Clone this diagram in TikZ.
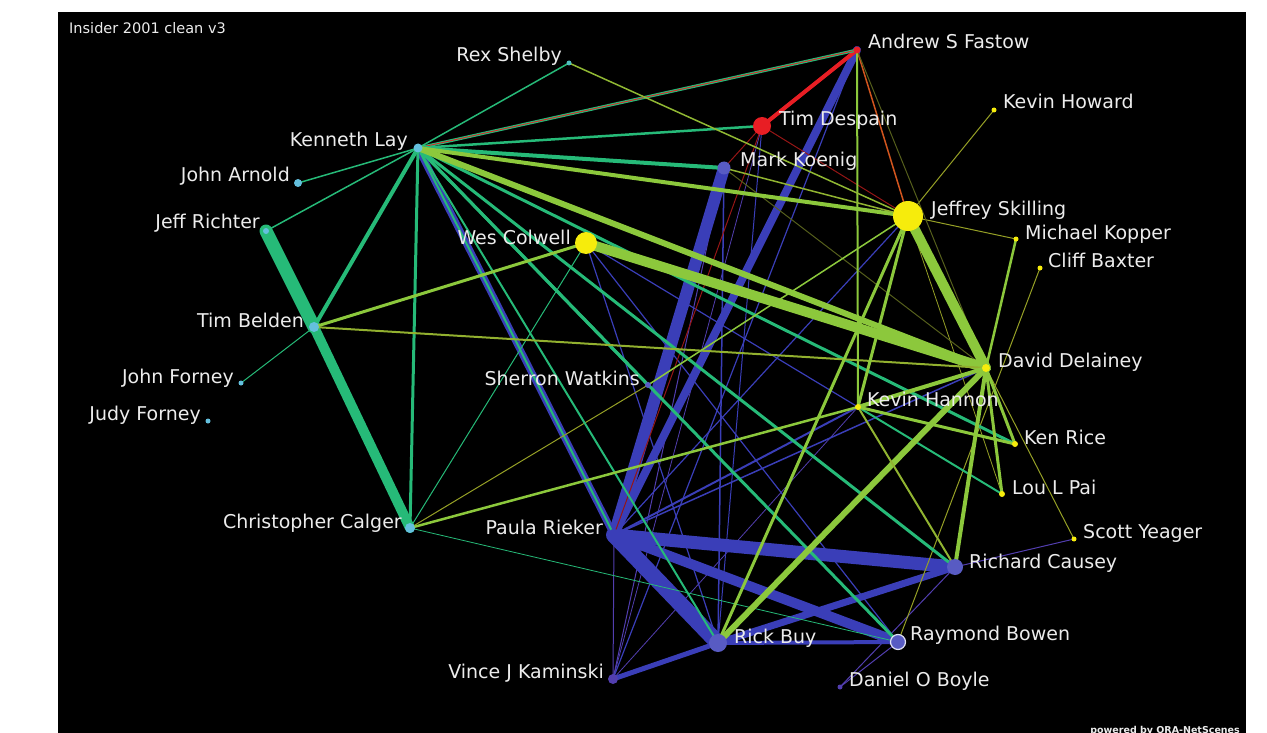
\documentclass[tikz,border=0pt]{standalone}
\usepackage{fontspec}
\setmainfont{DejaVu Sans}
\definecolor{cT}{RGB}{38,186,120}
\definecolor{cL}{RGB}{140,200,60}
\definecolor{cB}{RGB}{58,62,184}
\definecolor{cR}{RGB}{232,30,36}
\definecolor{cDR}{RGB}{150,22,22}
\definecolor{cOr}{RGB}{210,85,30}
\definecolor{cO}{RGB}{150,160,38}
\definecolor{cDO}{RGB}{85,95,28}
\definecolor{cP}{RGB}{82,62,175}
\definecolor{cC}{RGB}{100,192,222}
\definecolor{cY}{RGB}{246,236,12}
\definecolor{cTxt}{RGB}{236,236,236}
\tikzset{
  eT/.style={draw=cT,line width=#1},
  eL/.style={draw=cL,line width=#1},
  eB/.style={draw=cB,line width=#1},
  eR/.style={draw=cR,line width=#1},
  eDR/.style={draw=cDR,line width=#1},
  eO/.style={draw=cO,line width=#1},
  eDO/.style={draw=cDO,line width=#1},
  eP/.style={draw=cP,line width=#1},
  dot/.style={circle,inner sep=0pt,minimum size=#1},
  lbl/.style={text=cTxt,font=\fontsize{19}{20}\selectfont,inner sep=0pt},
  lblR/.style={lbl,anchor=base west},
  lblL/.style={lbl,anchor=base east},
}
\begin{document}
\begin{tikzpicture}[x=1pt,y=-1pt,line cap=round]
\useasboundingbox (0,0) rectangle (1267,733);
\fill[white] (0,0) rectangle (1267,733);
\fill[black] (58,12) rectangle (1246,733);
% coordinates
\coordinate (FA) at (857,50);
\coordinate (RS) at (569,63);
\coordinate (KHo) at (994,110);
\coordinate (TD) at (762,126);
\coordinate (KL) at (418,148);
\coordinate (MK) at (724,168);
\coordinate (JA) at (298,183);
\coordinate (SK) at (908,216);
\coordinate (JR) at (266,231);
\coordinate (WC) at (586,243);
\coordinate (KO) at (1016,239);
\coordinate (CB) at (1040,268);
\coordinate (TB) at (314,327);
\coordinate (DD) at (986,368);
\coordinate (JF) at (241,383);
\coordinate (SW) at (648,385);
\coordinate (KH) at (858,407);
\coordinate (JuF) at (208,421);
\coordinate (KR) at (1015,444);
\coordinate (LP) at (1002,494);
\coordinate (CC) at (410,528);
\coordinate (PR) at (614,535);
\coordinate (SY) at (1074,539);
\coordinate (RC) at (955,567);
\coordinate (RB) at (718,643);
\coordinate (RBo) at (898,642);
\coordinate (VK) at (613,679);
\coordinate (DOB) at (840,687);
% thin purple / blue
\draw[eP=1] (VK) -- (MK);
\draw[eP=1] (VK) -- (PR);
\draw[eP=0.8] (VK) -- (KH);
\draw[eP=0.8] (VK) -- (TD);
\draw[eP=1] (RC) -- (DOB);
\draw[eP=1] (RBo) -- (DOB);
\draw[eP=1] (SY) -- (RC);
\draw[eB=1.5] (MK) -- (RB);
\draw[eB=1] (TD) -- (RB);
\draw[eB=1.2] (SK) -- (PR);
\draw[eB=2] (KH) -- (PR);
\draw[eB=1.5] (DD) -- (PR);
\draw[eB=1.2] (WC) -- (KH);
\draw[eB=1.2] (WC) -- (RBo);
\draw[eB=1.2] (WC) -- (RB);
\draw[eB=1.2] (FA) -- (VK);
% blue heavy
\draw[eB=12] (MK) -- (PR);
\draw[eB=8] (FA) -- (PR);
\draw[eB=13] (PR) -- (RC);
\draw[eB=16] (PR) -- (RB);
\draw[eB=10] (PR) -- (RBo);
\draw[eB=7] (RB) -- (RC);
\draw[eB=4] (RB) -- (RBo);
\draw[eB=5] (RB) -- (VK);
\draw[eB=7] (KL) -- (PR);
\draw[eT=2] (KL) -- (PR);
% red
\draw[eR=4] (TD) -- (FA);
\draw[eDR=1] (TD) -- (MK);
\draw[eDR=1] (TD) -- (PR);
\draw[eDR=1] (TD) -- (SK);
\draw[draw=cOr,line width=1.5] (FA) -- (SK);
% olive thin
\draw[eO=1] (SK) -- (KHo);
\draw[eO=1] (SK) -- (KO);
\draw[eO=1] (CB) -- (RBo);
\draw[eO=1] (DD) -- (SY);
\draw[eO=1] (CC) -- (SW);
\draw[eO=0.8] (SK) -- (LP);
\draw[eDO=1] (FA) -- (DD);
\draw[eDO=1] (MK) -- (DD);
% teal
\draw[eT=13] (JR) -- (TB);
\draw[eT=10] (TB) -- (CC);
\draw[eT=4] (KL) -- (TB);
\draw[eT=3] (KL) -- (CC);
\draw[eT=3] (KL) -- (FA);
\draw[eR=0.8] (KL) -- (FA);
\draw[eT=1.5] (KL) -- (RS);
\draw[eT=1.5] (KL) -- (JA);
\draw[eT=1.5] (KL) -- (JR);
\draw[eT=2.5] (KL) -- (TD);
\draw[eT=4] (KL) -- (MK);
\draw[eT=3] (KL) -- (KR);
\draw[eT=3] (KL) -- (RC);
\draw[eT=3] (KL) -- (RBo);
\draw[eT=3] (KL) -- (SW);
\draw[eT=2] (KL) -- (RB);
\draw[eT=1] (TB) -- (JF);
\draw[eT=1] (CC) -- (WC);
\draw[eT=0.8] (CC) -- (RBo);
\draw[eT=2] (KH) -- (LP);
% lime
\draw[eL=4] (KL) -- (SK);
\draw[eL=6] (KL) -- (DD);
\draw[eL=10] (WC) -- (DD);
\draw[eL=10] (SK) -- (DD);
\draw[eL=3] (TB) -- (WC);
\draw[draw=cO!60!cL,line width=2] (TB) -- (DD);
\draw[eL=2.5] (CC) -- (KH);
\draw[eL=2] (FA) -- (KH);
\draw[eL=3] (SK) -- (KH);
\draw[eL=3] (SK) -- (RB);
\draw[eL=6] (DD) -- (RB);
\draw[eL=4] (DD) -- (RC);
\draw[eL=3] (DD) -- (KR);
\draw[eL=3] (DD) -- (LP);
\draw[eL=4] (DD) -- (KH);
\draw[eL=3] (KH) -- (KR);
\draw[eL=2.5] (KO) -- (DD);
\draw[eL=1.5] (SK) -- (SW);
\draw[draw=cO!40!cL,line width=1.5] (RS) -- (SK);
\draw[draw=cO!50!cL,line width=1.5] (MK) -- (SK);
\draw[draw=cO!50!cL,line width=2] (KH) -- (RC);
% nodes
\node[dot=7,fill=cR] (nFA) at (FA) {};
\node[dot=5,fill=cC!70!cT] (nRS) at (RS) {};
\node[dot=5,fill=cY] (nKHo) at (KHo) {};
\node[dot=18,fill=cR] (nTD) at (TD) {};
\node[dot=9,fill=cC] (nKL) at (KL) {};
\node[dot=13,fill=cB!85!white] (nMK) at (MK) {};
\node[dot=8,fill=cC] (nJA) at (JA) {};
\node[dot=30,fill=cY] (nSK) at (SK) {};
\node[dot=6,fill=cC] (nJR) at (JR) {};
\node[dot=22,fill=cY] (nWC) at (WC) {};
\node[dot=5,fill=cY] (nKO) at (KO) {};
\node[dot=5,fill=cY] (nCB) at (CB) {};
\node[dot=10,fill=cC] (nTB) at (TB) {};
\node[dot=8,fill=cY] (nDD) at (DD) {};
\node[dot=5,fill=cC] (nJF) at (JF) {};
\node[dot=6,fill=cB!85!white] (nSW) at (SW) {};
\node[dot=6,fill=cY] (nKH) at (KH) {};
\node[dot=5,fill=cC] (nJuF) at (JuF) {};
\node[dot=6,fill=cY] (nKR) at (KR) {};
\node[dot=6,fill=cY] (nLP) at (LP) {};
\node[dot=10,fill=cC] (nCC) at (CC) {};
\node[dot=12,fill=cB] (nPR) at (PR) {};
\node[dot=5,fill=cY] (nSY) at (SY) {};
\node[dot=16,fill=cB!85!white] (nRC) at (RC) {};
\node[dot=18,fill=cB!85!white] (nRB) at (RB) {};
\node[dot=15,fill=cB!85!white,draw=white!85!cB,line width=1.2] (nRBo) at (RBo) {};
\node[dot=10,fill=cP] (nVK) at (VK) {};
\node[dot=5,fill=cP] (nDOB) at (DOB) {};
% labels
\node[lbl,anchor=base west,font=\fontsize{14.5}{15}\selectfont] (title) at (69,34) {Insider 2001 clean v3};
\node[lblR] (lFA) at (868,49) {Andrew S Fastow};
\node[lblL] (lRS) at (562,62) {Rex Shelby};
\node[lblR] (lKHo) at (1003,109) {Kevin Howard};
\node[lblR] (lTD) at (779,126) {Tim Despain};
\node[lblL] (lKL) at (408,147) {Kenneth Lay};
\node[lblR] (lMK) at (740,167) {Mark Koenig};
\node[lblL] (lJA) at (290,182) {John Arnold};
\node[lblR] (lSK) at (931,215) {Jeffrey Skilling};
\node[lblL] (lJR) at (260,228) {Jeff Richter};
\node[lblL] (lWC) at (571,244) {Wes Colwell};
\node[lblR] (lKO) at (1025,239) {Michael Kopper};
\node[lblR] (lCB) at (1048,267) {Cliff Baxter};
\node[lblL] (lTB) at (304,327) {Tim Belden};
\node[lblR] (lDD) at (998,367) {David Delainey};
\node[lblL] (lJF) at (234,383) {John Forney};
\node[lblL] (lSW) at (640,385) {Sherron Watkins};
\node[lblR] (lKH) at (867,406) {Kevin Hannon};
\node[lblL] (lJuF) at (201,420) {Judy Forney};
\node[lblR] (lKR) at (1024,444) {Ken Rice};
\node[lblR] (lLP) at (1012,494) {Lou L Pai};
\node[lblL] (lCC) at (402,528) {Christopher Calger};
\node[lblL] (lPR) at (603,534) {Paula Rieker};
\node[lblR] (lSY) at (1083,538) {Scott Yeager};
\node[lblR] (lRC) at (969,568) {Richard Causey};
\node[lblR] (lRB) at (734,643) {Rick Buy};
\node[lblR] (lRBo) at (910,640) {Raymond Bowen};
\node[lblL] (lVK) at (604,678) {Vince J Kaminski};
\node[lblR] (lDOB) at (849,686) {Daniel O Boyle};
\node[anchor=base east,inner sep=0pt,text=cTxt,font=\bfseries\fontsize{9.5}{10}\selectfont] (credit) at (1240,733) {powered by ORA-NetScenes};
\end{tikzpicture}
\end{document}
